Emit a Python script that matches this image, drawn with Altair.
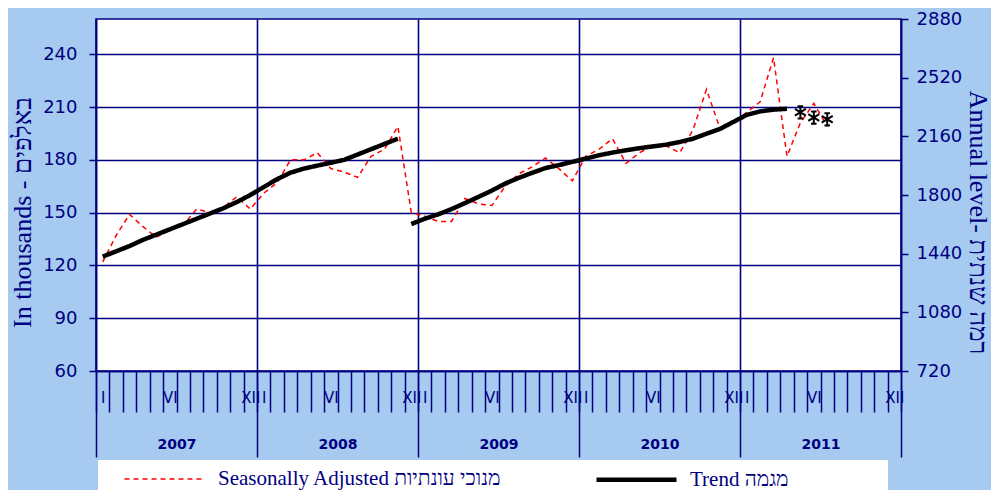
import altair as alt
import pandas as pd

NAVY = "#000080"
BG = "#A6CAF0"

SA_NAME = "Seasonally Adjusted מנוכי עונתיות"
TREND_NAME = "Trend מגמה"

# Monthly values, Jan 2007 - Jul 2011 (thousands)
sa_values = [122, 137, 149, 142, 136, 140, 143, 152, 150, 153, 159, 152,
             161, 167, 180, 180, 184, 175, 173, 170, 182, 186, 199, 150,
             148, 145, 145, 158, 155, 154, 165, 172, 176, 181, 175, 168,
             182, 186, 192, 178, 184, 188, 188, 184, 197, 220, 198, 201,
             207, 213, 238, 182, 201, 212, 199]
# Trend, Jan 2007 - Nov 2008
trend_part1 = [125, 128, 131, 134.5, 137.5, 140.5, 143.5, 146.5, 149.5, 152.5, 156, 160,
               164.5, 169, 172.7, 175, 176.7, 178.3, 180, 183, 186, 189, 192]
# Trend, Dec 2008 - Apr 2011
trend_part2 = [143.5, 146.5, 149, 152, 155.4, 158.9, 162.5, 166.5, 169.7, 172.6, 175.3, 177, 178.8,
               180.7, 182.6, 184.1, 185.4, 186.6, 187.6, 188.6, 190.1, 192, 194.8, 197.5, 201.5,
               205.5, 207.5, 208.5, 209]
# Trend estimates (asterisks), May - Jul 2011
star_start_month = 52
star_values = [207, 204, 203]

years = [2007, 2008, 2009, 2010, 2011]
numeral_months = [0, 5, 11]
numerals = ["I", "VI", "XII"]
left_ticks = [60, 90, 120, 150, 180, 210, 240]
right_ticks = [720, 1080, 1440, 1800, 2160, 2520, 2880]

n_months = 12 * len(years)

sa_df = pd.DataFrame({"x": [i + 0.5 for i in range(len(sa_values))],
                      "v": sa_values, "series": SA_NAME})
trend_df = pd.DataFrame({
    "x": [i + 0.5 for i in range(len(trend_part1))]
         + [len(trend_part1) + i + 0.5 for i in range(len(trend_part2))],
    "v": trend_part1 + trend_part2,
    "seg": [1] * len(trend_part1) + [2] * len(trend_part2),
    "series": TREND_NAME})
star_df = pd.DataFrame({"x": [star_start_month + i + 0.5 for i in range(len(star_values))],
                        "v": star_values})

xs = alt.Scale(domain=[0, n_months], nice=False, zero=False)
ys = alt.Scale(domain=[60, 260], nice=False, zero=False)

numeral_expr = "'" + numerals[-1] + "'"
for m, lab in zip(reversed(numeral_months[:-1]), reversed(numerals[:-1])):
    numeral_expr = f"(floor(datum.value) % 12 == {m}) ? '{lab}' : " + numeral_expr
year_expr = "[" + ",".join(f"'{y}'" for y in years) + "][floor(datum.value / 12)]"

axis_month_ticks = alt.Axis(orient="bottom", values=list(range(n_months + 1)), tickSize=41,
                            tickWidth=1.5, tickColor=NAVY, labels=False, domain=True,
                            domainColor=NAVY, domainWidth=1.5, grid=False, title=None)
axis_year_lines = alt.Axis(orient="bottom", values=list(range(0, n_months + 1, 12)), tickSize=86,
                           tickWidth=1.5, tickColor=NAVY, labels=False, domain=False,
                           grid=True, gridColor=NAVY, gridWidth=1.6, gridOpacity=1, title=None)
axis_month_labels = alt.Axis(orient="bottom",
                             values=[12 * k + m + 0.5 for k in range(len(years)) for m in numeral_months],
                             ticks=False, tickSize=0, labelExpr=numeral_expr, labelPadding=19,
                             labelFont="DejaVu Sans", labelFontSize=15, labelColor=NAVY,
                             domain=False, grid=False, title=None, labelFlush=False,
                             labelOverlap=False, labelBound=False)
axis_year_labels = alt.Axis(orient="bottom", values=[12 * k + 6 for k in range(len(years))],
                            ticks=False, tickSize=0, labelExpr=year_expr, labelPadding=73,
                            labelBaseline="middle", labelFont="DejaVu Sans", labelFontSize=14,
                            labelFontWeight="bold", labelColor=NAVY, domain=False, grid=False,
                            title=None, labelFlush=False, labelOverlap=False)

axis_left = alt.Axis(orient="left", values=left_ticks, format="d", grid=True, gridColor=NAVY,
                     gridWidth=1.6, gridOpacity=1, tickSize=7, tickColor=NAVY, tickWidth=1.5,
                     domainColor=NAVY, domainWidth=1.5, labelFont="DejaVu Sans", labelFontSize=18,
                     labelColor=NAVY, labelPadding=12, title="In thousands - באלפים",
                     titleFont="Liberation Serif", titleFontSize=26, titleFontWeight="normal",
                     titleColor=NAVY, titleAngle=270, titleX=-74, titleY=193, titleAlign="center",
                     titleBaseline="middle")
axis_right = alt.Axis(orient="right", values=right_ticks, format="d", grid=False, tickSize=7,
                      tickColor=NAVY, tickWidth=1.5, domainColor=NAVY, domainWidth=1.5,
                      labelFont="DejaVu Sans", labelFontSize=18, labelColor=NAVY, labelPadding=8,
                      title="Annual level- רמה שנתית", titleFont="Liberation Serif",
                      titleFontSize=26, titleFontWeight="normal", titleColor=NAVY, titleAngle=90,
                      titleX=76, titleY=203, titleAlign="center", titleBaseline="middle")

legend = alt.Legend(title=None, orient="none", legendX=26, legendY=418, direction="horizontal",
                    columns=2, symbolType="stroke", symbolSize=6400, labelFont="Liberation Serif",
                    labelFontSize=21, labelColor=NAVY, labelOffset=11, columnPadding=85,
                    padding=0, labelLimit=600)
series_domain = [SA_NAME, TREND_NAME]
color_enc = alt.Color("series:N", scale=alt.Scale(domain=series_domain, range=["#FF0000", "#000000"]),
                      legend=legend)
dash_enc = alt.StrokeDash("series:N", scale=alt.Scale(domain=series_domain, range=[[5, 4], [1, 0]]),
                          legend=legend)
width_enc = alt.StrokeWidth("series:N", scale=alt.Scale(domain=series_domain, range=[1.5, 4.5]),
                            legend=legend)

legend_box = alt.Chart(alt.Data(values=[{"k": 1}])).mark_rect(color="white").encode(
    x=alt.value(2), x2=alt.value(792), y=alt.value(441), y2=alt.value(480))

sa_layer = alt.Chart(sa_df).mark_line().encode(
    x=alt.X("x:Q", scale=xs, axis=axis_month_ticks),
    y=alt.Y("v:Q", scale=ys, axis=axis_left),
    color=color_enc, strokeDash=dash_enc, strokeWidth=width_enc)

trend_layer = alt.Chart(trend_df).mark_line().encode(
    x=alt.X("x:Q", scale=xs, axis=axis_year_lines),
    y=alt.Y("v:Q", scale=ys, axis=None),
    color=color_enc, strokeDash=dash_enc, strokeWidth=width_enc,
    detail="seg:N")

STAR = "M0,-1L0,1M-0.9,-0.55L0.9,0.55M-0.9,0.55L0.9,-0.55M-0.45,-1L0.45,-1M-0.45,1L0.45,1"
star_layer = alt.Chart(star_df).mark_point(shape=STAR, size=150, filled=False, color="black",
                                           strokeWidth=2, opacity=1).encode(
    x=alt.X("x:Q", scale=xs, axis=axis_month_labels),
    y=alt.Y("v:Q", scale=ys, axis=None))

right_layer = alt.Chart(sa_df).transform_calculate(annual="datum.v * 12").mark_line(opacity=0).encode(
    x=alt.X("x:Q", scale=xs, axis=axis_year_labels),
    y=alt.Y("annual:Q", scale=alt.Scale(domain=[720, 2880], nice=False, zero=False), axis=axis_right))

chart = alt.layer(legend_box, sa_layer, trend_layer, star_layer, right_layer).resolve_scale(
    x="independent", y="independent").resolve_axis(
    x="independent", y="independent").properties(
    width=805, height=352,
    padding={"left": 88, "top": 11, "right": 90, "bottom": 119},
    autosize=alt.AutoSizeParams(type="none"),
    background=BG).configure_view(stroke=NAVY, strokeWidth=1.5, fill="white")

chart.save("out.html", embed_options={"renderer": "svg", "actions": False})
